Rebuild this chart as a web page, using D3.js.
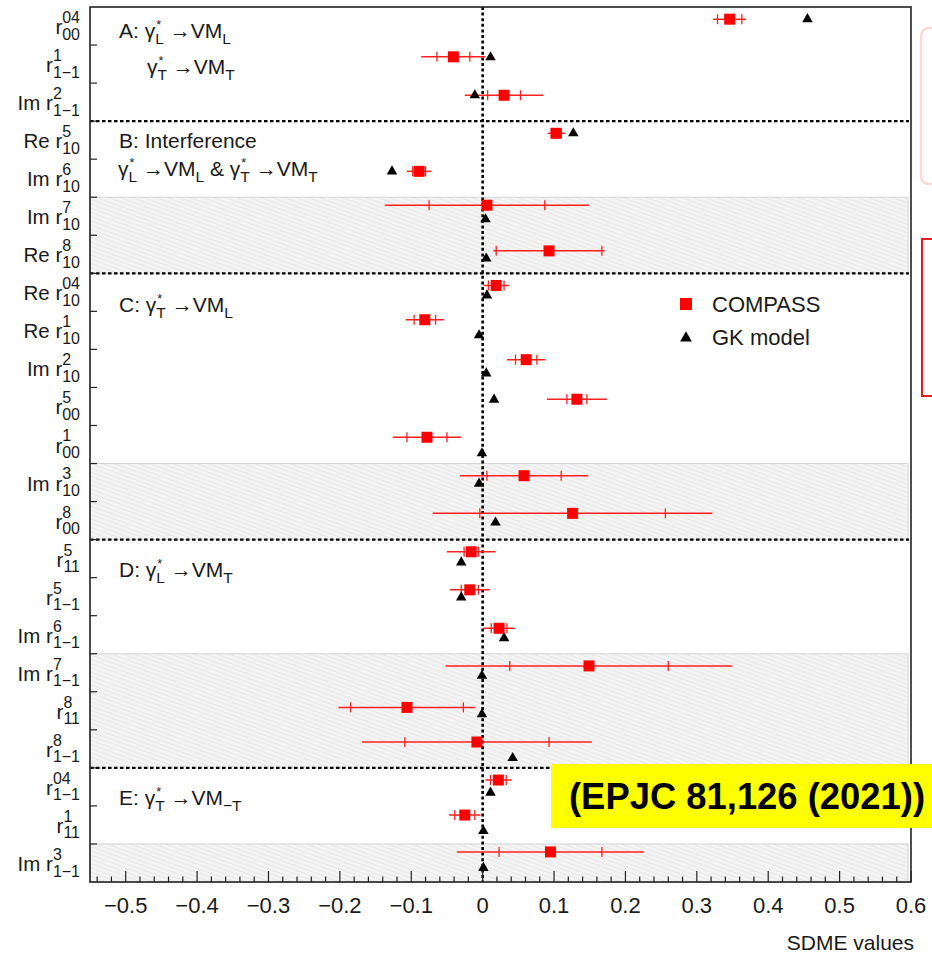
<!DOCTYPE html>
<html>
<head>
<meta charset="utf-8">
<script src="https://cdn.jsdelivr.net/npm/d3@7"></script>
<style>
  html, body { margin: 0; padding: 0; background: #fff; }
  svg text { font-family: "Liberation Sans", Arial, Helvetica, sans-serif; fill: #1a1a1a; white-space: pre; }
</style>
</head>
<body>
<svg id="chart" width="932" height="955"></svg>
<script>
// ---------------- data ----------------
const labelPrefix = ["r","r","Im r","Re r","Im r","Im r","Re r","Re r","Re r","Im r","r","r","Im r","r","r","r","Im r","Im r","r","r","r","r","Im r"];
const labelSup    = ["04","1","2","5","6","7","8","04","1","2","5","1","3","8","5","5","6","7","8","8","04","1","3"];
const labelSub    = ["00","1\u22121","1\u22121","10","10","10","10","10","10","10","00","00","10","00","11","1\u22121","1\u22121","1\u22121","11","1\u22121","1\u22121","11","1\u22121"];

// COMPASS measurements: value, statistical error, total error, vertical position (row units from top)
const compassValue = [0.346,-0.041,0.030,0.103,-0.089,0.006,0.093,0.019,-0.081,0.061,0.132,-0.078,0.058,0.126,-0.016,-0.018,0.023,0.149,-0.106,-0.008,0.022,-0.025,0.095];
const compassStat  = [0.017,0.023,0.023,0.007,0.009,0.081,0.074,0.011,0.015,0.015,0.014,0.028,0.052,0.130,0.010,0.012,0.011,0.111,0.079,0.101,0.011,0.014,0.072];
const compassTotal = [0.023,0.045,0.055,0.012,0.017,0.143,0.078,0.018,0.027,0.027,0.042,0.048,0.090,0.196,0.034,0.028,0.022,0.201,0.096,0.161,0.018,0.022,0.131];
const compassRow   = [0.32,1.31,2.32,3.32,4.32,5.21,6.41,7.32,8.22,9.27,10.31,11.31,12.32,13.31,14.32,15.32,16.33,17.32,18.41,19.32,20.32,21.24,22.21];

// GK model predictions
const gkValue = [0.455,0.011,-0.011,0.127,-0.127,0.004,0.005,0.006,-0.005,0.005,0.016,-0.001,-0.005,0.018,-0.030,-0.030,0.030,-0.001,-0.001,0.042,0.011,0.001,0.001];
const gkRow   = [0.32,1.32,2.32,3.32,4.32,5.58,6.61,7.58,8.63,9.63,10.32,11.73,12.53,13.55,14.60,15.52,16.59,17.58,18.59,19.74,20.65,21.66,22.63];

const separatorRows = [3, 7, 14, 20];
const bandStart = [5, 12, 17, 22];
const bandEnd   = [7, 14, 20, 23];

const xTickValues = [-0.5,-0.4,-0.3,-0.2,-0.1,0,0.1,0.2,0.3,0.4,0.5,0.6];
const xDomain = [-0.55, 0.6];
const nRows = 23;

const legendNames = ["COMPASS", "GK model"];
const xTitle = "SDME values";
const refText = "(EPJC 81,126 (2021))";

// ---------------- layout ----------------
const L = 90, R = 911, T = 7, B = 882;
const svg = d3.select("#chart");
const x = d3.scaleLinear().domain(xDomain).range([L, R]);
const y = d3.scaleLinear().domain([0, nRows]).range([T, B]);

// latex-like helper
function latex(g, px, py, segs, size, anchor, opt) {
  opt = opt || {};
  const supY = opt.supY !== undefined ? opt.supY : -0.56;
  const subY = opt.subY !== undefined ? opt.subY : 0.3;
  const scr = opt.scr || 0.74;
  const grp = g.append("g");
  let cx = 0;
  segs.forEach(s => {
    if (s.n !== undefined) {
      const t = grp.append("text").attr("x", cx).attr("y", 0).style("font-size", size + "px").text(s.n);
      cx += t.node().getComputedTextLength();
    } else {
      let w = 0;
      if (s.sup) {
        const star = s.sup === "*";
        const t = grp.append("text").attr("x", cx + (star ? 1 : 0))
          .attr("y", star ? -size * 0.42 : size * supY)
          .style("font-size", (size * (star ? 0.6 : scr)) + "px").text(s.sup);
        w = Math.max(w, t.node().getComputedTextLength() + (star ? 1 : 0));
      }
      if (s.sub) {
        const t = grp.append("text").attr("x", cx).attr("y", size * subY).style("font-size", (size * scr) + "px").text(s.sub);
        w = Math.max(w, t.node().getComputedTextLength());
      }
      cx += w;
    }
  });
  const dx = anchor === "end" ? -cx : (anchor === "middle" ? -cx / 2 : 0);
  grp.attr("transform", `translate(${px + dx},${py})`);
  return grp;
}

// defs: hatch pattern
const defs = svg.append("defs");
const pat = defs.append("pattern").attr("id", "hatch").attr("patternUnits", "userSpaceOnUse")
  .attr("width", 4).attr("height", 4).attr("patternTransform", "rotate(20)");
pat.append("rect").attr("width", 4).attr("height", 4).attr("fill", "#f4f4f4");
pat.append("line").attr("x1", 0).attr("y1", 0).attr("x2", 4).attr("y2", 0).attr("stroke", "#e0e0e0").attr("stroke-width", 1.3);

// hatched bands
svg.append("g").selectAll("rect").data(bandStart).join("rect")
  .attr("x", L).attr("y", (d) => y(d))
  .attr("width", R - L - 3).attr("height", (d, i) => y(bandEnd[i]) - y(d))
  .attr("fill", "url(#hatch)").attr("stroke", "#d4d4d4").attr("stroke-width", 1);

// separators
svg.append("g").selectAll("line").data(separatorRows).join("line")
  .attr("x1", L).attr("x2", R - 2).attr("y1", d => y(d)).attr("y2", d => y(d))
  .attr("stroke", "#000").attr("stroke-width", 2.2).attr("stroke-dasharray", "3.5,2.5");

// zero line
svg.append("line").attr("x1", x(0)).attr("x2", x(0)).attr("y1", T).attr("y2", B)
  .attr("stroke", "#000").attr("stroke-width", 2.6).attr("stroke-dasharray", "3,2.6");

// section labels
const tg = svg.append("g");
latex(tg, 119, 38, [{n: "A: \u03B3"}, {sup: "*", sub: "L"}, {n: " \u2192VM"}, {sub: "L"}], 21, "start");
latex(tg, 147, 74, [{n: "\u03B3"}, {sup: "*", sub: "T"}, {n: " \u2192VM"}, {sub: "T"}], 21, "start");
latex(tg, 119, 148, [{n: "B: Interference"}], 21, "start");
latex(tg, 118, 176, [{n: "\u03B3"}, {sup: "*", sub: "L"}, {n: " \u2192VM"}, {sub: "L"}, {n: " & \u03B3"}, {sup: "*", sub: "T"}, {n: " \u2192VM"}, {sub: "T"}], 21, "start");
latex(tg, 119, 312, [{n: "C: \u03B3"}, {sup: "*", sub: "T"}, {n: " \u2192VM"}, {sub: "L"}], 21, "start");
latex(tg, 119, 577, [{n: "D: \u03B3"}, {sup: "*", sub: "L"}, {n: " \u2192VM"}, {sub: "T"}], 21, "start");
latex(tg, 119, 805, [{n: "E: \u03B3"}, {sup: "*", sub: "T"}, {n: " \u2192VM"}, {sub: "\u2212T"}], 21, "start");

// error bars
const eg = svg.append("g");
compassValue.forEach((v, i) => {
  const cy = y(compassRow[i]);
  eg.append("line").attr("x1", x(v - compassTotal[i])).attr("x2", x(v + compassTotal[i]))
    .attr("y1", cy).attr("y2", cy).attr("stroke", "#ff2020").attr("stroke-width", 1.5);
  [v - compassStat[i], v + compassStat[i]].forEach(e => {
    eg.append("line").attr("x1", x(e)).attr("x2", x(e)).attr("y1", cy - 5).attr("y2", cy + 5)
      .attr("stroke", "#ff2020").attr("stroke-width", 1.3);
  });
});

// GK triangles
const tri = d3.symbol().type(d3.symbolTriangle).size(48);
svg.append("g").selectAll("path").data(gkValue).join("path")
  .attr("d", tri).attr("transform", (d, i) => `translate(${x(d)},${y(gkRow[i])})`).attr("fill", "#000");

// COMPASS squares
svg.append("g").selectAll("rect").data(compassValue).join("rect")
  .attr("x", d => x(d) - 5.5).attr("y", (d, i) => y(compassRow[i]) - 5.5)
  .attr("width", 11).attr("height", 11).attr("fill", "#ff0000");

// frame
svg.append("rect").attr("x", L).attr("y", T).attr("width", R - L).attr("height", B - T)
  .attr("fill", "none").attr("stroke", "#222").attr("stroke-width", 1.6);

// x axis ticks (upward from bottom)
const minorTicks = d3.range(-0.54, 0.6001, 0.02);
svg.append("g").selectAll("line").data(minorTicks).join("line")
  .attr("x1", d => x(d)).attr("x2", d => x(d)).attr("y1", B).attr("y2", d => {
    const isMajor = Math.abs(Math.round(d * 10) - d * 10) < 1e-6;
    return isMajor ? B - 11 : B - 5.5;
  })
  .attr("stroke", "#222").attr("stroke-width", 1.2);

const xa = svg.append("g");
xa.selectAll("text").data(xTickValues).join("text")
  .attr("x", d => x(d)).attr("y", 913).attr("text-anchor", "middle")
  .style("font-size", "22px")
  .text(d => d === 0 ? "0" : (d < 0 ? "\u2212" + d3.format(".1f")(-d) : d3.format(".1f")(d)));
xa.append("text").attr("x", 914).attr("y", 950).attr("text-anchor", "end").style("font-size", "21px").text(xTitle);

// y axis ticks at row boundaries
svg.append("g").selectAll("line").data(d3.range(1, nRows)).join("line")
  .attr("x1", L).attr("x2", L + 7).attr("y1", d => y(d)).attr("y2", d => y(d))
  .attr("stroke", "#222").attr("stroke-width", 1.2);

// y labels
const yg = svg.append("g");
labelPrefix.forEach((p, i) => {
  latex(yg, 80, y(i + 0.5) + 8, [{n: p}, {sup: labelSup[i], sub: labelSub[i]}], 20.5, "end",
        {supY: -0.54, subY: 0.27, scr: 0.78});
});

// legend
const lg = svg.append("g");
lg.append("rect").attr("x", 680).attr("y", 298).attr("width", 12).attr("height", 12).attr("fill", "#ff0000");
lg.append("path").attr("d", d3.symbol().type(d3.symbolTriangle).size(60)).attr("transform", "translate(686,338)").attr("fill", "#000");
lg.selectAll("text").data(legendNames).join("text")
  .attr("x", 712).attr("y", (d, i) => 312 + i * 33).style("font-size", "22px").text(d => d);

// decorations outside the frame (cropped boxes)
svg.append("rect").attr("x", 921).attr("y", 28).attr("width", 40).attr("height", 156).attr("rx", 8)
  .attr("fill", "none").attr("stroke", "#fbd9d9").attr("stroke-width", 2.5);
svg.append("rect").attr("x", 922).attr("y", 239).attr("width", 40).attr("height", 157)
  .attr("fill", "none").attr("stroke", "#e31e1e").attr("stroke-width", 2);

// reference box
svg.append("rect").attr("x", 551).attr("y", 764).attr("width", 400).attr("height", 64).attr("fill", "#ffff00");
svg.append("text").attr("x", 569).attr("y", 809).style("font-size", "36.4px").style("font-weight", "bold")
  .style("fill", "#000").text(refText);
</script>
</body>
</html>
